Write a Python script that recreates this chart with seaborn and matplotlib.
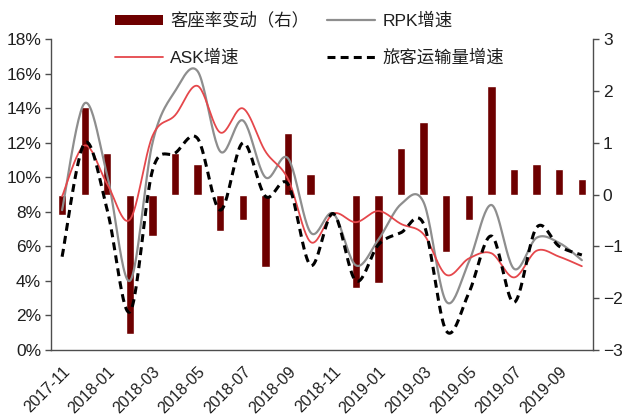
import numpy as np
import pandas as pd
import matplotlib
matplotlib.use("Agg")
import matplotlib.pyplot as plt
import matplotlib.transforms as mtransforms
import seaborn as sns
from matplotlib.patches import Patch
from matplotlib.lines import Line2D
from matplotlib.ticker import FixedLocator, FuncFormatter

# Monthly data, 2017-11 .. 2019-10
months = pd.period_range("2017-11", "2019-10", freq="M").strftime("%Y-%m").tolist()
load_factor_change = [-0.4, 1.7, 0.8, -2.7, -0.8, 0.8, 0.6, -0.7, -0.5, -1.4, 1.2, 0.4,
                      0.0, -1.8, -1.7, 0.9, 1.4, -1.1, -0.5, 2.1, 0.5, 0.6, 0.5, 0.3]
rpk_growth = [8.1, 14.3, 10.1, 4.0, 12.0, 15.0, 16.15, 11.5, 13.3, 10.0, 11.1, 6.8,
              7.9, 4.9, 6.4, 8.45, 8.55, 2.8, 5.1, 8.4, 4.7, 6.5, 6.2, 5.2]
ask_growth = [8.9, 11.85, 9.6, 7.55, 12.4, 13.6, 15.3, 12.6, 14.0, 11.5, 9.9, 6.25,
              7.9, 7.4, 8.05, 7.3, 6.7, 4.35, 5.3, 5.6, 4.2, 5.75, 5.4, 4.85]
pax_growth = [5.4, 12.0, 8.1, 2.2, 10.4, 11.4, 12.25, 8.1, 12.0, 8.9, 9.6, 4.9,
              7.9, 4.0, 6.1, 6.8, 7.3, 1.1, 3.3, 6.6, 2.75, 7.1, 6.0, 5.5]

label_bar = "客座率变动（右）"
label_rpk = "RPK增速"
label_ask = "ASK增速"
label_pax = "旅客运输量增速"

BAR_C = "#6E0000"
RPK_C = "#8E8E8E"
ASK_C = "#E5474B"
PAX_C = "#000000"
AX_C = "#4D4D4D"
TXT_C = "#1F1F1F"


def smooth(values, n=24):
    """Bezier smoothing through every point (Catmull-Rom control points)."""
    y = np.asarray(values, float)
    p = np.column_stack([np.arange(len(y), dtype=float), y])
    ext = np.vstack([p[0], p, p[-1]])
    t = np.linspace(0, 1, n, endpoint=False)[:, None]
    segs = []
    for i in range(len(p) - 1):
        p0, p3 = ext[i + 1], ext[i + 2]
        c1 = p0 + (ext[i + 2] - ext[i]) / 6
        c2 = p3 - (ext[i + 3] - ext[i + 1]) / 6
        segs.append((1 - t) ** 3 * p0 + 3 * (1 - t) ** 2 * t * c1
                    + 3 * (1 - t) * t ** 2 * c2 + t ** 3 * p3)
    segs.append(p[-1:])
    pts = np.vstack(segs)
    return pd.DataFrame({"x": pts[:, 0], "y": pts[:, 1]})


sns.set_style("white")
plt.rcParams["font.family"] = ["Liberation Sans Narrow", "Liberation Sans", "Noto Sans CJK SC"]
plt.rcParams["axes.unicode_minus"] = True

fig = plt.figure(figsize=(6.27, 4.19), dpi=100)
ax = fig.add_axes([0.081, 0.165, 0.865, 0.741])

# bars on the right-hand scale
bars = pd.DataFrame({"pos": np.arange(len(months)), "v": load_factor_change})
sns.barplot(data=bars, x="pos", y="v", color=BAR_C, saturation=1, width=0.37, ax=ax)

ax2 = ax.twinx()
ax.yaxis.tick_right()
ax.yaxis.set_label_position("right")
ax2.yaxis.tick_left()
ax2.yaxis.set_label_position("left")

# growth lines on the left-hand scale
sns.lineplot(data=smooth(rpk_growth), x="x", y="y", sort=False, estimator=None,
             color=RPK_C, lw=1.6, ax=ax2)
sns.lineplot(data=smooth(ask_growth), x="x", y="y", sort=False, estimator=None,
             color=ASK_C, lw=1.3, ax=ax2)
sns.lineplot(data=smooth(pax_growth), x="x", y="y", sort=False, estimator=None,
             color=PAX_C, lw=2.2, ax=ax2)
ax2.lines[-1].set_dashes((2.6, 1.7))

for a in (ax, ax2):
    a.set_xlim(-0.5, len(months) - 0.5)
    a.set_xlabel("")
    a.set_ylabel("")
    for s in a.spines.values():
        s.set_visible(False)

ax.set_ylim(-3, 3)
ax.set_yticks(np.arange(-3, 4, 1))
ax2.set_ylim(0, 18)
ax2.set_yticks(np.arange(0, 19, 2))
ax2.yaxis.set_major_formatter(FuncFormatter(lambda v, _: f"{v:.0f}%"))

for side in ("left", "right", "bottom"):
    ax.spines[side].set_visible(True)
    ax.spines[side].set_color(AX_C)
    ax.spines[side].set_linewidth(1.0)

label_pos = np.arange(0, len(months), 2)
ax.set_xticks(label_pos)
ax.set_xticklabels([months[i] for i in label_pos], rotation=45, ha="right",
                   rotation_mode="anchor", fontsize=11.5, color=TXT_C)
shift = mtransforms.ScaledTranslation(6 / 100, -5 / 100, fig.dpi_scale_trans)
for lbl in ax.get_xticklabels():
    lbl.set_transform(lbl.get_transform() + shift)
ax.xaxis.set_minor_locator(FixedLocator(np.arange(-0.5, len(months), 2)))
ax.tick_params(axis="x", which="major", length=0, pad=10)
ax.tick_params(axis="x", which="minor", length=4, width=1, color=AX_C, direction="out")
ax.tick_params(axis="y", which="major", length=4, width=1, color=AX_C, direction="out",
               labelsize=12.5, labelcolor=TXT_C, pad=3)
ax2.tick_params(axis="y", which="major", length=4, width=1, color=AX_C, direction="out",
                labelsize=12.5, labelcolor=TXT_C, pad=3)
ax.grid(False)
ax2.grid(False)

# legend entries are filled column by column: bar / ASK in the first column
handles = [
    Patch(facecolor=BAR_C, edgecolor="none"),
    Line2D([], [], color=ASK_C, lw=1.3),
    Line2D([], [], color=RPK_C, lw=1.6),
    Line2D([], [], color=PAX_C, lw=2.2, dashes=(2.6, 1.7)),
]
fig.legend(handles, [label_bar, label_ask, label_rpk, label_pax], loc="upper left",
           bbox_to_anchor=(0.183, 0.971), ncol=2, frameon=False, fontsize=12.5,
           handlelength=2.8, handleheight=0.5, handletextpad=0.4, columnspacing=1.0,
           labelspacing=1.18, borderpad=0, borderaxespad=0, labelcolor=TXT_C)

fig.savefig("out.png", dpi=100)
